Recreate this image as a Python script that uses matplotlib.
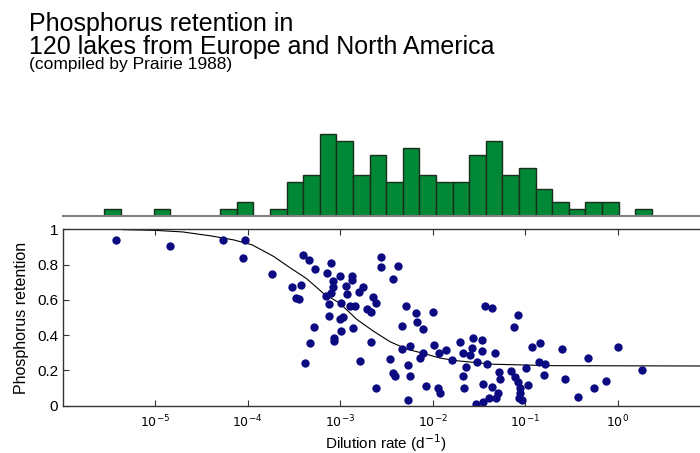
import numpy as np
import matplotlib
matplotlib.use("Agg")
import matplotlib.pyplot as plt

plt.rcParams["font.family"] = ["Liberation Sans", "DejaVu Sans"]

# lakes: log10 of dilution rate (1/d) and fraction of P retained
log_dilution = [
    -5.42, -4.84, -4.26, -4.03, -4.05, -3.74, -3.40, -3.33, -3.27, -3.10,
    -3.14, -3.00, -3.52, -3.42, -3.48, -3.44, -3.08, -3.08, -3.10, -3.15,
    -3.12, -2.99, -3.12, -3.00, -2.97, -2.99, -3.07, -3.07, -3.28, -3.32,
    -3.38, -2.56, -2.56, -2.37, -2.43, -2.87, -2.87, -2.93, -2.75, -2.79,
    -2.92, -2.64, -2.89, -2.84, -2.71, -2.66, -2.61, -2.86, -2.29, -2.18,
    -1.99, -2.17, -2.33, -2.10, -2.66, -2.33, -2.24, -2.13, -2.10, -1.98,
    -1.93, -1.85, -2.78, -2.46, -2.26, -2.43, -2.41, -2.24, -2.61, -2.07,
    -1.94, -1.92, -2.27, -1.43, -1.36, -1.08, -1.12, -1.70, -1.56, -1.46,
    -1.57, -1.47, -1.32, -1.67, -1.59, -1.79, -1.52, -1.41, -1.64, -1.67,
    -1.28, -1.27, -1.15, -1.11, -1.08, -1.05, -0.97, -0.99, -0.92, -0.84,
    -0.85, -0.78, -0.79, -1.66, -1.45, -1.36, -1.29, -1.31, -1.39, -1.45,
    -1.53, -1.06, -1.05, -1.03, -0.60, 0.00, -0.32, -0.57, -0.12, -0.25,
    -0.43, 0.27,
]
retention = [
    0.937, 0.905, 0.937, 0.937, 0.837, 0.745, 0.854, 0.828, 0.777, 0.807,
    0.750, 0.735, 0.675, 0.684, 0.612, 0.603, 0.709, 0.675, 0.637, 0.624,
    0.575, 0.584, 0.510, 0.491, 0.505, 0.423, 0.382, 0.367, 0.444, 0.354,
    0.244, 0.845, 0.785, 0.794, 0.717, 0.735, 0.713, 0.680, 0.671, 0.643,
    0.633, 0.614, 0.565, 0.565, 0.546, 0.529, 0.584, 0.442, 0.565, 0.524,
    0.533, 0.473, 0.454, 0.435, 0.363, 0.320, 0.337, 0.272, 0.297, 0.344,
    0.297, 0.316, 0.253, 0.263, 0.231, 0.184, 0.170, 0.170, 0.102, 0.112,
    0.102, 0.074, 0.032, 0.565, 0.552, 0.514, 0.444, 0.363, 0.385, 0.372,
    0.325, 0.312, 0.300, 0.297, 0.287, 0.259, 0.246, 0.235, 0.221, 0.170,
    0.193, 0.151, 0.198, 0.164, 0.136, 0.099, 0.117, 0.212, 0.334, 0.354,
    0.246, 0.235, 0.174, 0.102, 0.121, 0.108, 0.070, 0.045, 0.045, 0.023,
    0.008, 0.045, 0.074, 0.032, 0.321, 0.331, 0.272, 0.151, 0.140, 0.099,
    0.049, 0.201,
]

# fitted retention curve
fit_log_dilution = [-5.35, -5.0, -4.7, -4.4, -4.15, -3.95, -3.72, -3.54, -3.36, -3.18,
                    -3.0, -2.82, -2.64, -2.46, -2.28, -2.10, -1.92, -1.74, -1.56, -1.34,
                    -1.02, -0.73, 1.0]
fit_retention = [0.998, 0.994, 0.985, 0.963, 0.940, 0.912, 0.847, 0.782, 0.720, 0.637,
                 0.580, 0.490, 0.423, 0.363, 0.321, 0.297, 0.270, 0.255, 0.246, 0.235,
                 0.231, 0.227, 0.225]

# histogram of log dilution rate (counts per bin)
hist_counts = [1, 0, 0, 1, 0, 0, 0, 1, 2, 0, 1, 5, 6, 12, 11, 6, 9,
               5, 10, 6, 5, 5, 9, 11, 6, 7, 4, 2, 1, 2, 2, 0, 1]
hist_range = (-5.551, 0.371)

xticks_log = [-5, -4, -3, -2, -1, 0]
yticks = [0, 0.2, 0.4, 0.6, 0.8, 1]

fig = plt.figure(figsize=(7, 4.53), dpi=100)

# --- histogram on top ---
axh = fig.add_axes([62.5 / 700, 237.3 / 453, 647.5 / 700, 82.7 / 453])
edges = np.linspace(hist_range[0], hist_range[1], len(hist_counts) + 1)
axh.bar(10 ** edges[:-1], hist_counts, width=np.diff(10 ** edges), align="edge",
        color="#008837", edgecolor="#1b2e1b", linewidth=1.0)
axh.set_xscale("log")
axh.set_xlim(1e-6, 1e1)
axh.set_ylim(0, 12.2)
for side in ["top", "right", "left"]:
    axh.spines[side].set_visible(False)
axh.spines["bottom"].set_color("#808080")
axh.spines["bottom"].set_linewidth(1.5)
axh.set_xticks([])
axh.set_yticks([])
axh.minorticks_off()

# --- scatter with fitted curve ---
ax = fig.add_axes([62.5 / 700, 47.3 / 453, 647.5 / 700, 176.4 / 453])
ax.plot(10 ** np.array(fit_log_dilution), fit_retention, color="black", linewidth=0.8)
ax.plot(10 ** np.array(log_dilution), retention, "o", color="#0c0a80",
        markersize=6, markeredgewidth=0)
ax.set_xscale("log")
ax.set_xlim(1e-6, 1e1)
ax.set_ylim(0, 1)
ax.minorticks_off()
ax.set_xticks([10.0 ** k for k in xticks_log])
ax.set_xticklabels([f"$10^{{{k}}}$" for k in xticks_log], fontsize=9)
ax.set_yticks(yticks)
ax.set_yticklabels([f"{v:g}" for v in yticks], fontsize=11)
ax.tick_params(direction="in", length=4, width=0.8, top=True, right=True,
               color="#333333")
ax.tick_params(axis="x", pad=6)
ax.tick_params(axis="y", pad=3)
for s in ax.spines.values():
    s.set_color("#333333")
    s.set_linewidth(1.0)
ax.set_xlabel("Dilution rate (d$^{-1}$)", fontsize=11, labelpad=1)
ax.set_ylabel("Phosphorus retention", fontsize=11.5, labelpad=6)

fig.text(29 / 700, 1 - 31 / 453, "Phosphorus retention in", fontsize=18)
fig.text(29 / 700, 1 - 54 / 453, "120 lakes from Europe and North America", fontsize=18)
fig.text(29 / 700, 1 - 69 / 453, "(compiled by Prairie 1988)", fontsize=12.5)

fig.savefig("out.png", dpi=100)
